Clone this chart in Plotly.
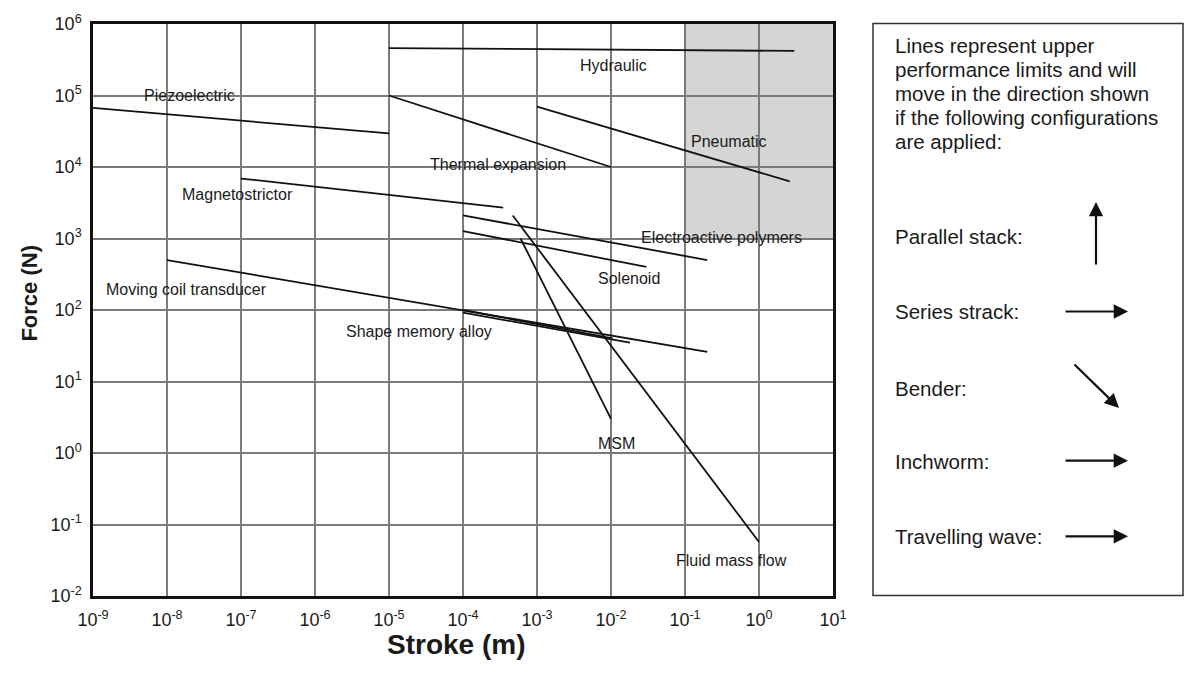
import numpy as np
import plotly.graph_objects as go

# ---------------- data (stroke in m, force in N) ----------------
technologies = ["Hydraulic", "Piezoelectric", "Thermal expansion", "Pneumatic",
                "Magnetostrictor", "Electroactive polymers", "Solenoid",
                "Moving coil transducer", "Shape memory alloy", "Shape memory alloy (2)",
                "MSM", "Fluid mass flow"]
stroke_start = [1e-5, 1e-9, 1e-5, 1e-3, 1e-7, 1e-4, 1e-4, 1e-8, 1e-4, 1e-4, 6e-4, 4.7e-4]
stroke_end   = [3.0, 1e-5, 1e-2, 2.6, 3.5e-4, 0.2, 0.03, 0.2, 1.05e-2, 1.8e-2, 1e-2, 1.0]
force_start  = [4.6e5, 6.7e4, 1e5, 7e4, 6.9e3, 2.1e3, 1.27e3, 500, 100, 92, 1e3, 2.1e3]
force_end    = [4.2e5, 2.95e4, 1e4, 6.3e3, 2.7e3, 500, 400, 26, 40, 35, 3, 0.057]

# grey region (high stroke / high force)
region_stroke = [0.1, 10]
region_force = [1e3, 1e6]

x_tick_exps = list(range(-9, 2))
y_tick_exps = list(range(-2, 7))
x_tick_labels = ["10<sup>%d</sup>" % e for e in x_tick_exps]
y_tick_labels = ["10<sup>%d</sup>" % e for e in y_tick_exps]

# label text and their (log10 stroke, log10 force) positions
label_texts = ["Hydraulic", "Piezoelectric", "Thermal expansion", "Pneumatic",
               "Magnetostrictor", "Electroactive polymers", "Solenoid",
               "Moving coil transducer", "Shape memory alloy", "MSM", "Fluid mass flow"]
label_pos = [(-1.97, 5.42), (-7.69, 5.00), (-3.53, 4.03), (-0.40, 4.36),
             (-7.05, 3.61), (-0.51, 3.02), (-1.76, 2.44), (-7.74, 2.28),
             (-4.60, 1.70), (-1.93, 0.13), (-0.37, -1.50)]

legend_lines = ["Lines represent upper", "performance limits and will",
                "move in the direction shown", "if the following configurations",
                "are applied:"]
config_names = ["Parallel stack:", "Series strack:", "Bender:", "Inchworm:", "Travelling wave:"]

# ---------------- layout geometry ----------------
W, H = 1185, 673
L, R, T, B = 93, 352, 21, 77
PW, PH = W - L - R, H - T - B

def paper_x(px):
    return (px - L) / PW

def paper_y(py):
    return 1 - (py - T) / PH

FONT = "Liberation Sans, Arial, sans-serif"

fig = go.Figure()

for i, name in enumerate(technologies):
    fig.add_trace(go.Scatter(
        x=[stroke_start[i], stroke_end[i]], y=[force_start[i], force_end[i]],
        mode="lines", name=name, line=dict(color="#111111", width=1.8),
        hoverinfo="skip", showlegend=False))

shapes = [dict(type="rect", xref="x", yref="y",
               x0=region_stroke[0], x1=region_stroke[1],
               y0=region_force[0], y1=region_force[1],
               fillcolor="#d5d5d5", line=dict(width=0), layer="below")]

# legend box
shapes.append(dict(type="rect", xref="paper", yref="paper",
                   x0=paper_x(873), x1=paper_x(1183), y0=paper_y(595.5), y1=paper_y(20.5),
                   line=dict(color="#333333", width=1.5), fillcolor="rgba(0,0,0,0)"))

annotations = []
for txt, (lx, ly) in zip(label_texts, label_pos):
    annotations.append(dict(x=lx, y=ly, xref="x", yref="y", text=txt, showarrow=False,
                            font=dict(family=FONT, size=16, color="#1a1a1a"),
                            xanchor="center", yanchor="middle"))

for k, line in enumerate(legend_lines):
    annotations.append(dict(x=paper_x(893), y=paper_y(43 + 24 * k), xref="paper", yref="paper",
                            text=line, showarrow=False, xanchor="left", yanchor="middle",
                            font=dict(family=FONT, size=20.5, color="#1a1a1a")))

config_y = [235, 310, 387, 461, 536]
for name, cy in zip(config_names, config_y):
    annotations.append(dict(x=paper_x(893), y=paper_y(cy), xref="paper", yref="paper",
                            text=name, showarrow=False, xanchor="left", yanchor="middle",
                            font=dict(family=FONT, size=20.5, color="#1a1a1a")))

# arrows: (head_x, head_y, tail_x, tail_y) in pixels
arrows = [(1096, 200, 1096, 264), (1128, 310, 1064, 310), (1119, 407, 1073, 362),
          (1128, 460, 1064, 460), (1128, 536, 1064, 536)]
for hx, hy, tx, ty in arrows:
    annotations.append(dict(x=paper_x(hx), y=paper_y(hy), xref="paper", yref="paper",
                            ax=tx - hx, ay=ty - hy, showarrow=True, text="",
                            arrowhead=2, arrowsize=1.3, arrowwidth=2.2, arrowcolor="#111111"))

annotations.append(dict(x=paper_x(30), y=paper_y(292), xref="paper", yref="paper",
                        text="<b>Force (N)</b>", textangle=-90, showarrow=False,
                        xanchor="center", yanchor="middle",
                        font=dict(family=FONT, size=22, color="#1a1a1a")))
annotations.append(dict(x=paper_x(456), y=paper_y(645), xref="paper", yref="paper",
                        text="<b>Stroke (m)</b>", showarrow=False,
                        xanchor="center", yanchor="middle",
                        font=dict(family=FONT, size=28, color="#1a1a1a")))

fig.update_layout(
    width=W, height=H, margin=dict(l=L, r=R, t=T, b=B),
    paper_bgcolor="white", plot_bgcolor="white",
    shapes=shapes, annotations=annotations, showlegend=False,
    font=dict(family=FONT, color="#1a1a1a"),
)
fig.update_xaxes(type="log", range=[-9, 1], tickvals=[10.0 ** e for e in x_tick_exps],
                 ticktext=x_tick_labels, showgrid=True, gridcolor="#7a7a7a", gridwidth=1.5,
                 showline=True, mirror=True, linecolor="#111111", linewidth=2.5,
                 ticks="", ticklabelstandoff=6,
                 tickfont=dict(family=FONT, size=18, color="#1a1a1a"),
                 zeroline=False)
fig.update_yaxes(type="log", range=[-2, 6], tickvals=[10.0 ** e for e in y_tick_exps],
                 ticktext=y_tick_labels, showgrid=True, gridcolor="#7a7a7a", gridwidth=1.5,
                 showline=True, mirror=True, linecolor="#111111", linewidth=2.5,
                 ticks="", ticklabelstandoff=5,
                 tickfont=dict(family=FONT, size=18, color="#1a1a1a"),
                 zeroline=False)

fig.write_html("out.html")
